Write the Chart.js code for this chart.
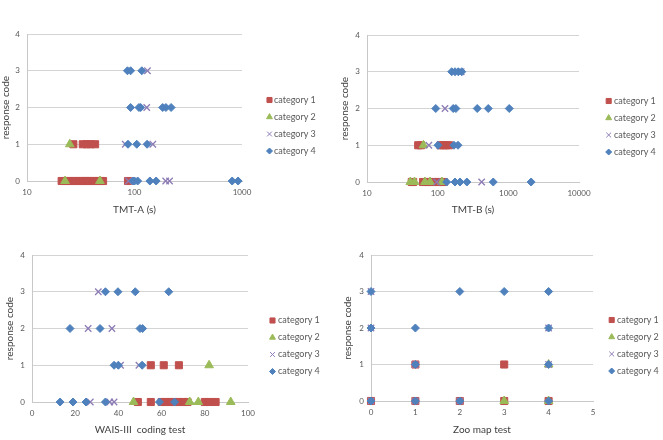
<!DOCTYPE html>
<html lang="en">
<head>
<meta charset="UTF-8">
<title>Response code by test score</title>
<script src="https://cdn.jsdelivr.net/npm/chart.js"></script>
<style>
  body { margin: 0; background: #fff; }
  .panel { position: absolute; }
</style>
</head>
<body>

<div class="panel" style="left:0;top:0"><canvas id="chartTmtA" width="330" height="220"></canvas></div>
<div class="panel" style="left:330px;top:0"><canvas id="chartTmtB" width="333" height="220"></canvas></div>
<div class="panel" style="left:0;top:220px"><canvas id="chartWais" width="330" height="220"></canvas></div>
<div class="panel" style="left:330px;top:220px"><canvas id="chartZoo" width="333" height="220"></canvas></div>

<script>
// series names and the shared y axis
const categories = ['category 1', 'category 2', 'category 3', 'category 4'];
const responseTicks = [0, 1, 2, 3, 4];

// x axis tick labels
const tmtATicks = [10, 100, 1000];
const tmtBTicks = [10, 100, 1000, 10000];
const waisTicks = [0, 20, 40, 60, 80, 100];
const zooTicks = [0, 1, 2, 3, 4, 5];

// [score, response code]
const tmtACat1 = [[21,0],[23,0],[25,0],[27,0],[29,0],[31,0],[33,0],[35,0],[37,0],[39,0],[42,0],[45,0],[48,0],[51,0],[87,0],
                  [27,1],[33,1],[36,1],[39,1],[43,1]];
const tmtACat2 = [[22.6,0],[47.7,0],[25,1]];
const tmtACat3 = [[88,0],[195,0],[212,0],[82,1],[148,1],[130,2],[132,3]];
const tmtACat4 = [[97,0],[100,0],[107,0],[139,0],[159,0],[810,0],[920,0],
                  [87,1],[105,1],[131,1],
                  [92,2],[110,2],[114,2],[183,2],[196,2],[219,2],
                  [86,3],[92,3],[117,3]];

const tmtBCat1 = [[43,0],[45,0],[62,0],[68,0],[75,0],[83,0],[92,0],[102,0],[112,0],[122,0],
                  [53,1],[58,1],[110,1],[120,1],[132,1],[145,1]];
const tmtBCat2 = [[41,0],[47,0],[66,0],[78,0],[115,0],[63,1]];
const tmtBCat3 = [[97,0],[419,0],[75,1],[127,2],[215,3]];
const tmtBCat4 = [[134,0],[176,0],[207,0],[259,0],[612,0],[2100,0],
                  [101,1],[170,1],[194,1],
                  [94,2],[166,2],[181,2],[363,2],[520,2],[1030,2],
                  [158,3],[176,3],[196,3],[219,3]];

const waisCat1 = [[49,0],[55,0],[60,0],[62,0],[64,0],[66,0],[68,0],[70,0],[72,0],[80,0],[82,0],[85,0],
                  [55,1],[61,1],[68,1]];
const waisCat2 = [[47,0],[73,0],[77,0],[92,0],[82,1]];
const waisCat3 = [[27,0],[36,0],[38,0],[41,1],[49.5,1],[26,2],[37,2],[30.7,3]];
const waisCat4 = [[13,0],[19,0],[25,0],[34,0],[59,0],[66,0],
                  [38,1],[40,1],[51,1],
                  [17.6,2],[31.5,2],[50,2],[51.2,2],
                  [34,3],[39.8,3],[47.8,3],[63.3,3]];

const zooCat1 = [[0,0],[1,0],[2,0],[3,0],[4,0],[1,1],[3,1]];
const zooCat2 = [[3,0],[4,0],[4,1]];
const zooCat3 = [[0,0],[1,0],[2,0],[1,1],[4,1],[0,2],[4,2],[0,3]];
const zooCat4 = [[0,0],[1,0],[2,0],[4,0],[1,1],[4,1],[0,2],[1,2],[4,2],[0,3],[2,3],[3,3],[4,3]];

// look of the four series
const markerStyles = ['rect', 'triangle', 'crossRot', 'rectRot'];
const markerColors = ['#C0504D', '#9BBB59', '#8C7BB5', '#4F81BD'];
const markerRadius = [5, 5, 4.5, 4];
const legendRadius = [3.6, 3.4, 3.4, 3];

const FONT = 'Lato, "Open Sans", sans-serif';
const TEXT = '#595959';

const sideLegend = {
  id: 'sideLegend',
  afterDraw(chart, args, opts) {
    const ctx = chart.ctx;
    ctx.save();
    ctx.font = '9px ' + FONT;
    ctx.textBaseline = 'middle';
    categories.forEach((name, i) => {
      const y = opts.top + i * opts.step;
      ctx.fillStyle = markerColors[i];
      ctx.strokeStyle = markerColors[i];
      ctx.lineWidth = 1;
      Chart.helpers.drawPoint(ctx, { pointStyle: markerStyles[i], radius: legendRadius[i], borderWidth: 1, rotation: 0 }, opts.markX, y);
      ctx.fillStyle = TEXT;
      ctx.fillText(name, opts.textX, y);
    });
    ctx.restore();
  }
};

function makeSets(groups) {
  return categories.map((name, i) => ({
    label: name,
    data: groups[i].map(p => ({ x: p[0], y: p[1] })),
    pointStyle: markerStyles[i],
    pointRadius: markerRadius[i],
    backgroundColor: markerColors[i],
    borderColor: markerColors[i],
    borderWidth: i === 2 ? 1.3 : 1,
    order: 3 - i,
    clip: false
  }));
}

function drawPanel(id, groups, p) {
  new Chart(document.getElementById(id), {
    type: 'scatter',
    data: { datasets: makeSets(groups) },
    plugins: [sideLegend],
    options: {
      responsive: false,
      animation: false,
      events: [],
      layout: { padding: { left: p.padLeft, top: p.plotTop, right: p.width - p.plotRight, bottom: 0 } },
      plugins: {
        legend: { display: false },
        tooltip: { enabled: false },
        sideLegend: p.legend
      },
      scales: {
        x: {
          type: p.xType,
          min: p.xTicks[0],
          max: p.xTicks[p.xTicks.length - 1],
          afterBuildTicks: s => { s.ticks = p.xTicks.map(v => ({ value: v })); },
          afterFit: s => { s.height = 220 - p.plotBottom; },
          grid: { display: false, drawTicks: false },
          border: { display: true, color: '#c8c8c8' },
          ticks: { callback: v => String(v), font: { size: 8, family: FONT }, color: TEXT, padding: 7, maxRotation: 0, autoSkip: false },
          title: { display: true, text: p.xTitle, font: { size: 10, family: FONT }, color: '#404040', padding: { top: 4, bottom: 4 } }
        },
        y: {
          min: 0,
          max: 4,
          afterBuildTicks: s => { s.ticks = responseTicks.map(v => ({ value: v })); },
          afterFit: s => { s.width = p.plotLeft - p.padLeft; },
          grid: { color: '#d4d4d4', drawTicks: false },
          border: { display: true, color: '#c8c8c8' },
          ticks: { font: { size: 8, family: FONT }, color: TEXT, padding: 7 },
          title: { display: true, text: 'response code', font: { size: 10, family: FONT }, color: '#404040', padding: { top: 0, bottom: 0 } }
        }
      }
    }
  });
}

drawPanel('chartTmtA', [tmtACat1, tmtACat2, tmtACat3, tmtACat4], {
  xType: 'logarithmic', xTicks: tmtATicks, xTitle: 'TMT-A (s)',
  width: 330, padLeft: 0, plotLeft: 27, plotRight: 242, plotTop: 34, plotBottom: 181,
  legend: { markX: 269.5, textX: 274, top: 100, step: 17 }
});
drawPanel('chartTmtB', [tmtBCat1, tmtBCat2, tmtBCat3, tmtBCat4], {
  xType: 'logarithmic', xTicks: tmtBTicks, xTitle: 'TMT-B (s)',
  width: 333, padLeft: 9, plotLeft: 37, plotRight: 249, plotTop: 35, plotBottom: 182,
  legend: { markX: 278.7, textX: 284, top: 101, step: 17 }
});
drawPanel('chartWais', [waisCat1, waisCat2, waisCat3, waisCat4], {
  xType: 'linear', xTicks: waisTicks, xTitle: 'WAIS-III  coding test',
  width: 330, padLeft: 4, plotLeft: 32, plotRight: 248, plotTop: 35, plotBottom: 182,
  legend: { markX: 272.5, textX: 278, top: 100.5, step: 17 }
});
drawPanel('chartZoo', [zooCat1, zooCat2, zooCat3, zooCat4], {
  xType: 'linear', xTicks: zooTicks, xTitle: 'Zoo map test',
  width: 333, padLeft: 12, plotLeft: 41, plotRight: 263, plotTop: 35, plotBottom: 181,
  legend: { markX: 281.7, textX: 287, top: 100, step: 17 }
});
</script>
</body>
</html>
